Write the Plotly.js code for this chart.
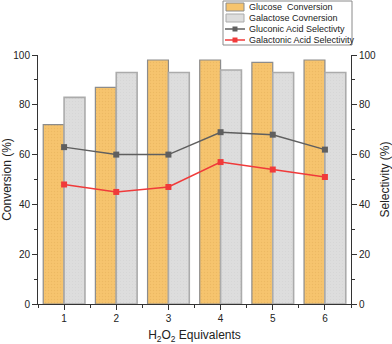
<!DOCTYPE html>
<html>
<head>
<meta charset="utf-8">
<script src="https://cdn.plot.ly/plotly-3.0.1.min.js"></script>
<style>
  body { margin: 0; background: #fff; }
  #chart { width: 392px; height: 344px; }
</style>
</head>
<body>
<div id="chart"></div>
<script>
// H2O2 equivalents on the x axis
const EQUIVALENTS = [1, 2, 3, 4, 5, 6];

// Conversion (%), left axis
const GLUCOSE_CONVERSION = [72, 87, 98, 98, 97, 98];
const GALACTOSE_CONVERSION = [83, 93, 93, 94, 93, 93];

// Selectivity (%), right axis
const GLUCONIC_SELECTIVITY = [63, 60, 60, 69, 68, 62];
const GALACTONIC_SELECTIVITY = [48, 45, 47, 57, 54, 51];

// Names as printed in the legend (typos kept)
const SERIES_NAMES = [
  'Glucose\u00a0\u00a0Conversion',
  'Galactose Covnersion',
  'Gluconic Acid Selectivty',
  'Galactonic Acid Selectivity'
];

const FONT = 'Liberation Sans, Arial, sans-serif';
const AXIS_COLOR = '#333333';
const TEXT_COLOR = '#222222';

const GLUCOSE_STYLE = {fill: '#f6c46e', dots: '#e2ad58', border: '#8c8c8c'};
const GALACTOSE_STYLE = {fill: '#dddddd', dots: '#d0d0d0', border: '#ababab'};
const GLUCONIC_STYLE = {color: '#5f5f5f', width: 1.5};
const GALACTONIC_STYLE = {color: '#f03a3a', width: 1.5};

// plot area in pixels, used to place the hand drawn legend
const W = 392, H = 344;
const MARGIN = {l: 38, r: 41, t: 55, b: 40};

function px(x) {
  return (x - MARGIN.l) / (W - MARGIN.l - MARGIN.r);
}
function py(y) {
  return (H - MARGIN.b - y) / (H - MARGIN.t - MARGIN.b);
}

function barMarker(s, lineWidth) {
  return {
    color: s.fill,
    line: {color: s.border, width: lineWidth},
    pattern: {shape: '.', size: 3, solidity: 0.2, fgcolor: s.dots, bgcolor: s.fill, fgopacity: 0.5}
  };
}

var traceGlucose = {
  type: 'bar',
  x: EQUIVALENTS,
  y: GLUCOSE_CONVERSION,
  name: SERIES_NAMES[0],
  marker: barMarker(GLUCOSE_STYLE, 1.2),
  showlegend: false
};

var traceGalactose = {
  type: 'bar',
  x: EQUIVALENTS,
  y: GALACTOSE_CONVERSION,
  name: SERIES_NAMES[1],
  marker: barMarker(GALACTOSE_STYLE, 1.6),
  showlegend: false
};

var traceGluconic = {
  type: 'scatter',
  mode: 'lines+markers',
  x: EQUIVALENTS,
  y: GLUCONIC_SELECTIVITY,
  name: SERIES_NAMES[2],
  yaxis: 'y2',
  line: GLUCONIC_STYLE,
  marker: {symbol: 'square', size: 6, color: GLUCONIC_STYLE.color},
  showlegend: false
};

var traceGalactonic = {
  type: 'scatter',
  mode: 'lines+markers',
  x: EQUIVALENTS,
  y: GALACTONIC_SELECTIVITY,
  name: SERIES_NAMES[3],
  yaxis: 'y2',
  line: GALACTONIC_STYLE,
  marker: {symbol: 'square', size: 6, color: GALACTONIC_STYLE.color},
  showlegend: false
};

// legend drawn by hand, Plotly's own rows are too tall for this box
var legendShapes = [];
var legendNotes = [];
var rowsY = [7, 18, 29, 40];
legendShapes.push({
  type: 'rect', xref: 'paper', yref: 'paper',
  x0: px(223), x1: px(352), y0: py(1), y1: py(45),
  line: {color: '#8a8a8a', width: 1}, fillcolor: '#ffffff', layer: 'above'
});
[GLUCOSE_STYLE, GALACTOSE_STYLE].forEach(function(s, i) {
  legendShapes.push({
    type: 'rect', xref: 'paper', yref: 'paper',
    x0: px(226), x1: px(244), y0: py(rowsY[i] - 4), y1: py(rowsY[i] + 4),
    line: {color: s.border, width: 1}, fillcolor: s.fill, layer: 'above'
  });
});
[GLUCONIC_STYLE, GALACTONIC_STYLE].forEach(function(s, i) {
  var yy = rowsY[i + 2];
  legendShapes.push({
    type: 'line', xref: 'paper', yref: 'paper',
    x0: px(225), x1: px(245), y0: py(yy), y1: py(yy),
    line: {color: s.color, width: s.width}, layer: 'above'
  });
  legendShapes.push({
    type: 'rect', xref: 'paper', yref: 'paper',
    x0: px(232.5), x1: px(237.5), y0: py(yy - 2.5), y1: py(yy + 2.5),
    line: {width: 0}, fillcolor: s.color, layer: 'above'
  });
});
SERIES_NAMES.forEach(function(name, i) {
  legendNotes.push({
    xref: 'paper', yref: 'paper',
    x: px(247), y: py(rowsY[i]),
    xanchor: 'left', yanchor: 'middle',
    text: name, showarrow: false,
    font: {family: FONT, size: 9, color: TEXT_COLOR}
  });
});

var LAYOUT = {
  width: W,
  height: H,
  margin: MARGIN,
  paper_bgcolor: '#ffffff',
  plot_bgcolor: '#ffffff',
  font: {family: FONT, size: 10, color: TEXT_COLOR},
  barmode: 'group',
  bargap: 0.2,
  bargroupgap: 0,
  showlegend: false,
  xaxis: {
    range: [0.5, 6.5],
    tickvals: EQUIVALENTS,
    ticks: 'outside',
    ticklen: 5,
    tickcolor: AXIS_COLOR,
    tickfont: {family: FONT, size: 10, color: TEXT_COLOR},
    minor: {dtick: 0.5, ticks: 'outside', ticklen: 3, tickcolor: AXIS_COLOR},
    showline: true,
    linecolor: AXIS_COLOR,
    linewidth: 1,
    showgrid: false,
    zeroline: false,
    title: {
      text: 'H<sub>2</sub>O<sub>2</sub> Equivalents',
      font: {family: FONT, size: 12, color: TEXT_COLOR},
      standoff: 10
    }
  },
  xaxis2: {
    overlaying: 'x',
    side: 'top',
    anchor: 'y',
    range: [0.5, 6.5],
    dtick: 0.5,
    tick0: 0.5,
    ticks: 'inside',
    ticklen: 3,
    tickcolor: AXIS_COLOR,
    showticklabels: false,
    showline: true,
    linecolor: AXIS_COLOR,
    linewidth: 1,
    showgrid: false,
    zeroline: false
  },
  yaxis: {
    range: [0, 100],
    dtick: 20,
    ticks: 'outside',
    ticklen: 5,
    tickcolor: AXIS_COLOR,
    tickfont: {family: FONT, size: 10, color: TEXT_COLOR},
    minor: {dtick: 10, ticks: 'outside', ticklen: 3, tickcolor: AXIS_COLOR},
    showline: true,
    linecolor: AXIS_COLOR,
    linewidth: 1,
    showgrid: false,
    zeroline: false,
    title: {
      text: 'Conversion (%)',
      font: {family: FONT, size: 12, color: TEXT_COLOR},
      standoff: 8
    }
  },
  yaxis2: {
    overlaying: 'y',
    side: 'right',
    range: [0, 100],
    dtick: 20,
    ticks: 'outside',
    ticklen: 5,
    tickcolor: AXIS_COLOR,
    tickfont: {family: FONT, size: 10, color: TEXT_COLOR},
    minor: {dtick: 10, ticks: 'outside', ticklen: 3, tickcolor: AXIS_COLOR},
    showline: true,
    linecolor: AXIS_COLOR,
    linewidth: 1,
    showgrid: false,
    zeroline: false,
    title: {
      text: 'Selectivity (%)',
      font: {family: FONT, size: 12, color: TEXT_COLOR},
      standoff: 10
    }
  },
  shapes: legendShapes,
  annotations: legendNotes
};

var plotData = [traceGlucose, traceGalactose, traceGluconic, traceGalactonic];
Plotly.newPlot('chart', plotData, LAYOUT, {staticPlot: true, displayModeBar: false});
</script>
</body>
</html>
